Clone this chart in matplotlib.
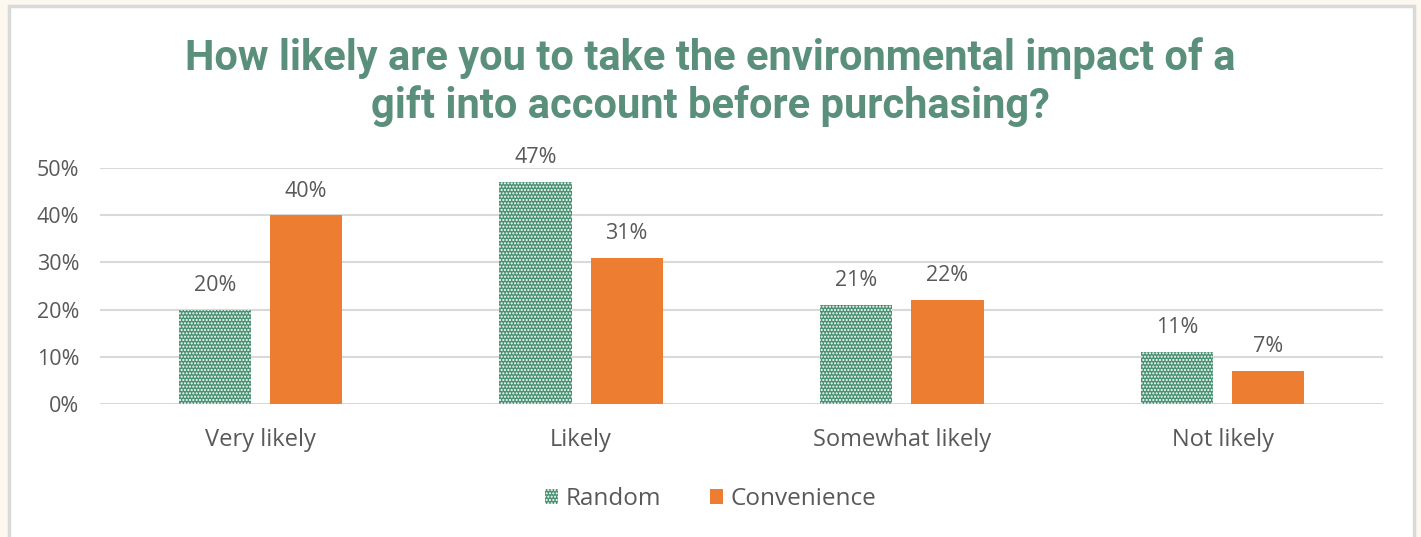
import matplotlib.pyplot as plt
import matplotlib.patches as mpatches
import numpy as np

categories = ['Very likely', 'Likely', 'Somewhat likely', 'Not likely']
random_vals = [20, 47, 21, 11]
convenience_vals = [40, 31, 22, 7]
yticks = [0, 10, 20, 30, 40, 50]

green = '#3e8a6c'
orange = '#ed7d31'
grey_text = '#595959'

plt.rcParams['font.family'] = ['Open Sans', 'DejaVu Sans']
plt.rcParams['hatch.linewidth'] = 1.0

fig = plt.figure(figsize=(14.21, 5.37), dpi=100, facecolor='#fcf7ef')

# white chart panel with a light grey frame
panel = mpatches.Rectangle((9 / 1421, -0.05), 1405 / 1421, 1 - 6 / 537 + 0.05,
                           transform=fig.transFigure, facecolor='white',
                           edgecolor='#d9d9d9', linewidth=2.5, zorder=-5)
fig.patches.append(panel)

ax = fig.add_axes([100 / 1421, 1 - 404 / 537, 1283 / 1421, 236 / 537])
ax.set_facecolor('none')
ax.set_zorder(2)

x = np.arange(len(categories))
w = 0.225
off = 0.142
# dotted pattern: green fill, white dots on top
b1 = ax.bar(x - off, random_vals, w, facecolor='#4a9274', edgecolor='white',
            hatch='.....', linewidth=0, zorder=3, label='Random')
b2 = ax.bar(x + off, convenience_vals, w, color=orange, zorder=3,
            label='Convenience')

for bars, vals in ((b1, random_vals), (b2, convenience_vals)):
    for rect, v in zip(bars, vals):
        ax.text(rect.get_x() + rect.get_width() / 2, v + 2.9, f'{v}%',
                ha='center', va='bottom', fontsize=15.5, color=grey_text)

ax.set_xlim(-0.5, len(categories) - 0.5)
ax.set_ylim(0, 50)
ax.set_yticks(yticks)
ax.set_yticklabels([f'{t}%' for t in yticks], fontsize=15.5, color=grey_text)
ax.set_xticks(x)
ax.set_xticklabels(categories, fontsize=17, color=grey_text)
ax.tick_params(length=0, pad=17)
ax.tick_params(axis='y', pad=15)
ax.grid(axis='y', color='#d9d9d9', linewidth=1.5, zorder=0)
for s in ax.spines.values():
    s.set_visible(False)

title_kw = dict(ha='center', va='center', fontsize=30, fontweight='bold',
                color='#5a8f7b', family=['Roboto', 'DejaVu Sans'])
fig.text(0.5, 1 - 58 / 537,
         'How likely are you to take the environmental impact of a', **title_kw)
fig.text(0.5, 1 - 106 / 537, 'gift into account before purchasing?',
         **title_kw)

fig.legend(handles=[b1, b2], loc='center', bbox_to_anchor=(0.5, 1 - 499 / 537),
           ncol=2, frameon=False, fontsize=17.5, handlelength=0.55,
           handleheight=0.55, handletextpad=0.3, columnspacing=2.0,
           labelcolor=grey_text)

fig.savefig('out.png', dpi=100, facecolor=fig.get_facecolor())
